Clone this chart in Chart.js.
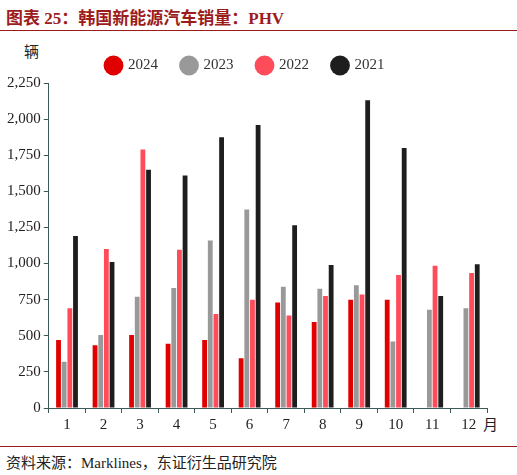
<!DOCTYPE html>
<html>
<head>
<meta charset="utf-8">
<script src="https://cdn.jsdelivr.net/npm/chart.js@4"></script>
<style>
  body { margin: 0; background: #fff; font-family: "Liberation Serif", "Noto Sans CJK SC", serif; }
  .title { position: absolute; left: 6px; top: 4px; font-size: 17px; font-weight: bold; color: #9c1c1c; }
  .topline { position: absolute; left: 0; top: 30px; width: 517px; border-top: 1px solid #9c1c1c; }
  .unit { position: absolute; left: 24px; top: 40px; font-size: 15px; color: #222; }
  .month { position: absolute; left: 483px; top: 413px; font-size: 15px; color: #222; }
  .botline { position: absolute; left: 0; top: 446px; width: 517px; border-top: 1px solid #9c1c1c; }
  .source { position: absolute; left: 6px; top: 451px; font-size: 15px; color: #222; }
  #wrap { position: absolute; left: 0; top: 34px; width: 517px; height: 403px; }
</style>
</head>
<body>
<div class="title">图表 25：韩国新能源汽车销量：PHV</div>
<div class="topline"></div>
<div class="unit">辆</div>
<div class="month">月</div>
<div id="wrap"><canvas id="c"></canvas></div>
<div class="botline"></div>
<div class="source">资料来源：Marklines，东证衍生品研究院</div>
<script>
const months = ["1","2","3","4","5","6","7","8","9","10","11","12"];
const sales2024 = [470, 435, 505, 445, 470, 345, 730, 595, 750, 750, null, null];
const sales2023 = [320, 505, 770, 830, 1160, 1375, 840, 825, 850, 460, 680, 690];
const sales2022 = [690, 1100, 1790, 1095, 650, 750, 640, 775, 785, 920, 985, 935];
const sales2021 = [1190, 1010, 1650, 1610, 1875, 1960, 1265, 990, 2130, 1800, 775, 995];

function ds(label, data, color) {
  return { label, data, backgroundColor: color, categoryPercentage: 0.62, barPercentage: 0.85 };
}

new Chart(document.getElementById("c"), {
  type: "bar",
  data: {
    labels: months,
    datasets: [
      ds("2024", sales2024, "#e00000"),
      ds("2023", sales2023, "#999999"),
      ds("2022", sales2022, "#ff4b5a"),
      ds("2021", sales2021, "#1e1e1e")
    ]
  },
  options: {
    responsive: true,
    maintainAspectRatio: false,
    animation: false,
    layout: { padding: { left: 4, right: 30, top: 0, bottom: 0 } },
    plugins: {
      legend: {
        labels: {
          usePointStyle: true, pointStyle: "circle", boxWidth: 14, boxHeight: 14,
          color: "#333", font: { family: "Liberation Serif", size: 15 }, padding: 24
        }
      },
      tooltip: { enabled: false }
    },
    scales: {
      x: {
        grid: { display: true, drawOnChartArea: false, offset: true, tickLength: 5, color: "#3d5a5a" },
        border: { color: "#3d5a5a" },
        ticks: { color: "#222", font: { family: "Liberation Serif", size: 15 } }
      },
      y: {
        min: 0, max: 2250,
        grid: { display: true, drawOnChartArea: false, tickLength: 5, color: "#3d5a5a" },
        border: { color: "#3d5a5a" },
        ticks: {
          stepSize: 250, color: "#222",
          font: { family: "Liberation Serif", size: 15 },
          callback: v => v.toLocaleString("en-US")
        }
      }
    }
  }
});
</script>
</body>
</html>
